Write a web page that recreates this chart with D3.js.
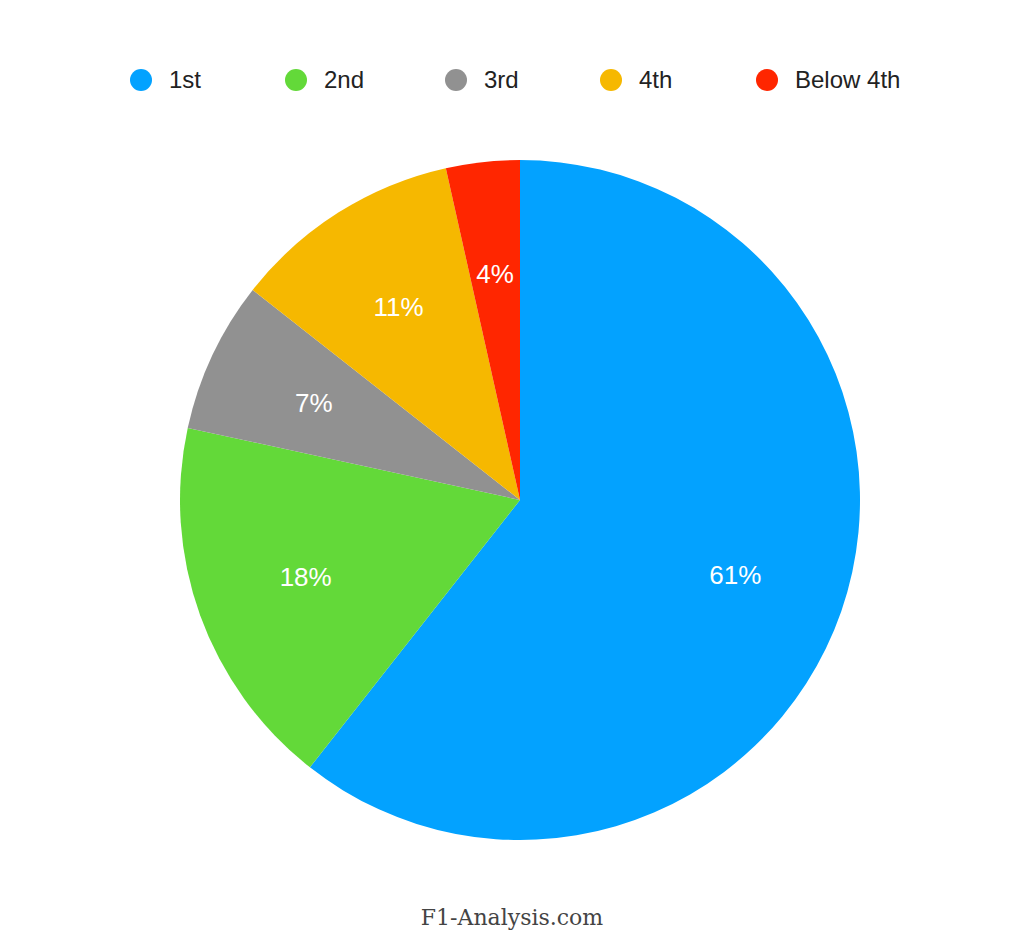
<!DOCTYPE html>
<html><head><meta charset="utf-8">
<script src="https://cdn.jsdelivr.net/npm/d3@7"></script>
<style>body{margin:0;background:#fff}</style>
</head><body>
<svg id="chart" width="1024" height="945"></svg>
<script>
const categories = ["1st", "2nd", "3rd", "4th", "Below 4th"];
const values = [60.6, 17.8, 7.2, 10.9, 3.5];
const colors = ["#03A2FF", "#63D939", "#919191", "#F6B800", "#FF2600"];
const legendX = [141, 296, 456, 611, 767];

const svg = d3.select("#chart");
const font = "Helvetica, 'Liberation Sans', Arial, sans-serif";
const cx = 520, cy = 500, r = 340;

const pie = d3.pie().sort(null).value(d => d)(values);
const arc = d3.arc().innerRadius(0).outerRadius(r);
const labelArc = d3.arc().innerRadius(r * 0.67).outerRadius(r * 0.67);

const g = svg.append("g").attr("transform", `translate(${cx},${cy})`);
g.selectAll("path").data(pie).join("path")
    .attr("d", arc)
    .attr("fill", (d, i) => colors[i]);

g.selectAll("text").data(pie).join("text")
    .attr("transform", d => `translate(${labelArc.centroid(d)})`)
    .attr("text-anchor", "middle")
    .attr("dy", "0.35em")
    .attr("fill", "#fff")
    .style("font", `26px ${font}`)
    .text(d => Math.round(d.value) + "%");

const legend = svg.append("g").selectAll("g").data(categories).join("g")
    .attr("transform", (d, i) => `translate(${legendX[i]},80)`);
legend.append("circle").attr("r", 11).attr("fill", (d, i) => colors[i]);
legend.append("text").attr("x", 28).attr("dy", "0.35em")
    .attr("fill", "#222").style("font", `24px ${font}`).text(d => d);

svg.append("text").attr("x", 512).attr("y", 925).attr("text-anchor", "middle")
    .attr("fill", "#444").style("font", "22px 'DejaVu Serif', serif")
    .text("F1-Analysis.com");
</script>
</body></html>
